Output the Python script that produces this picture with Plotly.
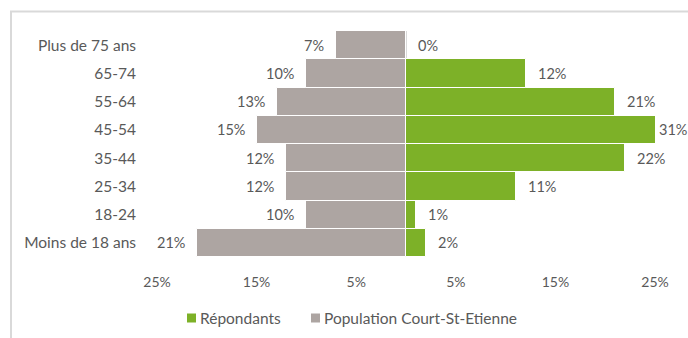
import plotly.graph_objects as go

# Age groups, bottom to top
age_groups = ["Moins de 18 ans", "18-24", "25-34", "35-44", "45-54", "55-64", "65-74", "Plus de 75 ans"]
# Shares in percent
repondants = [2, 1, 11, 22, 31, 21, 12, 0]
population = [21, 10, 12, 12, 15, 13, 10, 7]

tick_vals = [-25, -15, -5, 5, 15, 25]
tick_text = ["25%", "15%", "5%", "5%", "15%", "25%"]

series_names = ["Répondants", "Population Court-St-Etienne"]

x_limit = 25
green = "#7DB128"
grey = "#ADA5A2"
text_grey = "#595959"
font_family = "Lato"

W, H = 688, 338
L, R, T, B = 157, 33, 31, 81
plot_w, plot_h = W - L - R, H - T - B


def px_x(px):
    return (px - L) / plot_w


def px_y(px):
    return (H - B - px) / plot_h


fig = go.Figure()
fig.add_trace(go.Bar(
    y=age_groups, x=repondants, orientation="h", name=series_names[0],
    marker=dict(color=green, line=dict(color="white", width=1)), showlegend=False,
))
fig.add_trace(go.Bar(
    y=age_groups, x=[-v for v in population], orientation="h", name=series_names[1],
    marker=dict(color=grey, line=dict(color="white", width=1)), showlegend=False,
))

# Value labels at the end of each bar (bars beyond the axis end are clipped)
annotations = []
for cat, v in zip(age_groups, repondants):
    clipped = v > x_limit
    annotations.append(dict(
        x=min(v, x_limit), y=cat, xref="x", yref="y", text=f"{v}%",
        showarrow=False, xanchor="left", xshift=2 if clipped else 10,
        font=dict(family=font_family, size=14.5, color=text_grey),
    ))
for cat, v in zip(age_groups, population):
    annotations.append(dict(
        x=-min(v, x_limit), y=cat, xref="x", yref="y", text=f"{v}%",
        showarrow=False, xanchor="right", xshift=-10,
        font=dict(family=font_family, size=14.5, color=text_grey),
    ))

# Compact legend: small square swatch followed by the series name
legend_y = 318
legend_items = [(series_names[0], green, 187), (series_names[1], grey, 311)]
shapes = []
for name, color, x0 in legend_items:
    shapes.append(dict(type="rect", xref="paper", yref="paper",
                       x0=px_x(x0), x1=px_x(x0 + 9), y0=px_y(legend_y - 4.5), y1=px_y(legend_y + 4.5),
                       fillcolor=color, line=dict(width=0)))
    annotations.append(dict(x=px_x(x0 + 11), y=px_y(legend_y), xref="paper", yref="paper",
                            text=name, showarrow=False, xanchor="left", yanchor="middle",
                            font=dict(family=font_family, size=15.5, color=text_grey)))

# Chart frame (top and left edges)
shapes += [
    dict(type="line", xref="paper", yref="paper", x0=px_x(10), x1=px_x(700),
         y0=px_y(11.5), y1=px_y(11.5), line=dict(color="#D9D9D9", width=2)),
    dict(type="line", xref="paper", yref="paper", x0=px_x(11), x1=px_x(11),
         y0=px_y(11.5), y1=px_y(345), line=dict(color="#D9D9D9", width=2)),
]

fig.update_layout(
    width=W, height=H,
    margin=dict(l=L, r=R, t=T, b=B),
    paper_bgcolor="white", plot_bgcolor="white",
    barmode="relative", bargap=0,
    font=dict(family=font_family, size=14, color=text_grey),
    annotations=annotations,
    shapes=shapes,
    xaxis=dict(range=[-x_limit, x_limit], tickvals=tick_vals, ticktext=tick_text,
               showgrid=False, zeroline=True, zerolinecolor="#D9D9D9", zerolinewidth=1,
               ticklabelstandoff=15, tickfont=dict(size=14), fixedrange=True),
    yaxis=dict(categoryorder="array", categoryarray=age_groups, showgrid=False,
               ticklabelstandoff=20, tickfont=dict(size=15.5), fixedrange=True),
)

fig.write_html("out.html")
